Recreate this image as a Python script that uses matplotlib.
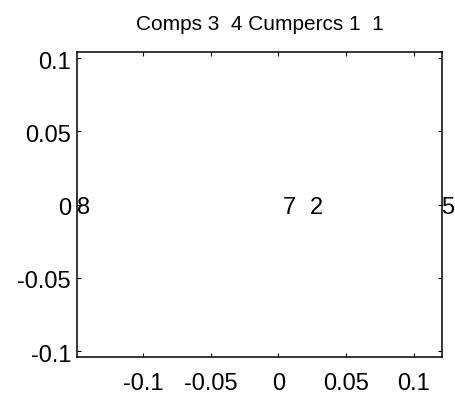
import matplotlib
matplotlib.use("Agg")
import matplotlib.pyplot as plt
from matplotlib.transforms import ScaledTranslation

plt.rcParams['font.family'] = ['Liberation Sans', 'DejaVu Sans']

# point labels and their coordinates
labels = ['8', '7', '2', '5']
label_x = [-0.1487, 0.0030, 0.0230, 0.1200]
label_y = [0.0, 0.0, 0.0, 0.0]

xticks = [-0.1, -0.05, 0, 0.05, 0.1]
xticklabels = ['-0.1', '-0.05', '0', '0.05', '0.1']
yticks = [-0.1, -0.05, 0, 0.05, 0.1]
yticklabels = ['-0.1', '-0.05', '0', '0.05', '0.1']

title = 'Comps 3  4 Cumpercs 1  1'

fig = plt.figure(figsize=(4.56, 3.98), dpi=100)
ax = fig.add_axes([0.1689, 0.1030, 0.8004, 0.7663])

ax.set_xlim(-0.1487, 0.1207)
ax.set_ylim(-0.1041, 0.1041)

ax.set_xticks(xticks)
ax.set_xticklabels(xticklabels)
ax.set_yticks(yticks)
ax.set_yticklabels(yticklabels)

ax.tick_params(axis='both', direction='in', length=2.6, width=0.8,
               labelsize=17, top=True, right=True, colors='black')
ax.tick_params(axis='x', pad=11.3)
ax.tick_params(axis='y', pad=4.3)

# nudge y tick labels slightly below their ticks
down = ScaledTranslation(0, -1.6 / 72, fig.dpi_scale_trans)
for lab in ax.get_yticklabels():
    lab.set_transform(lab.get_transform() + down)

for sp in ax.spines.values():
    sp.set_linewidth(1.1)
    sp.set_color('black')

text_shift = ScaledTranslation(0, -2.8 / 72, fig.dpi_scale_trans)
for t, x, y in zip(labels, label_x, label_y):
    ax.text(x, y, t, fontsize=17, ha='left', va='center', clip_on=False,
            transform=ax.transData + text_shift)

ax.set_title(title, fontsize=15, pad=16)

fig.savefig('out.png', dpi=100)
